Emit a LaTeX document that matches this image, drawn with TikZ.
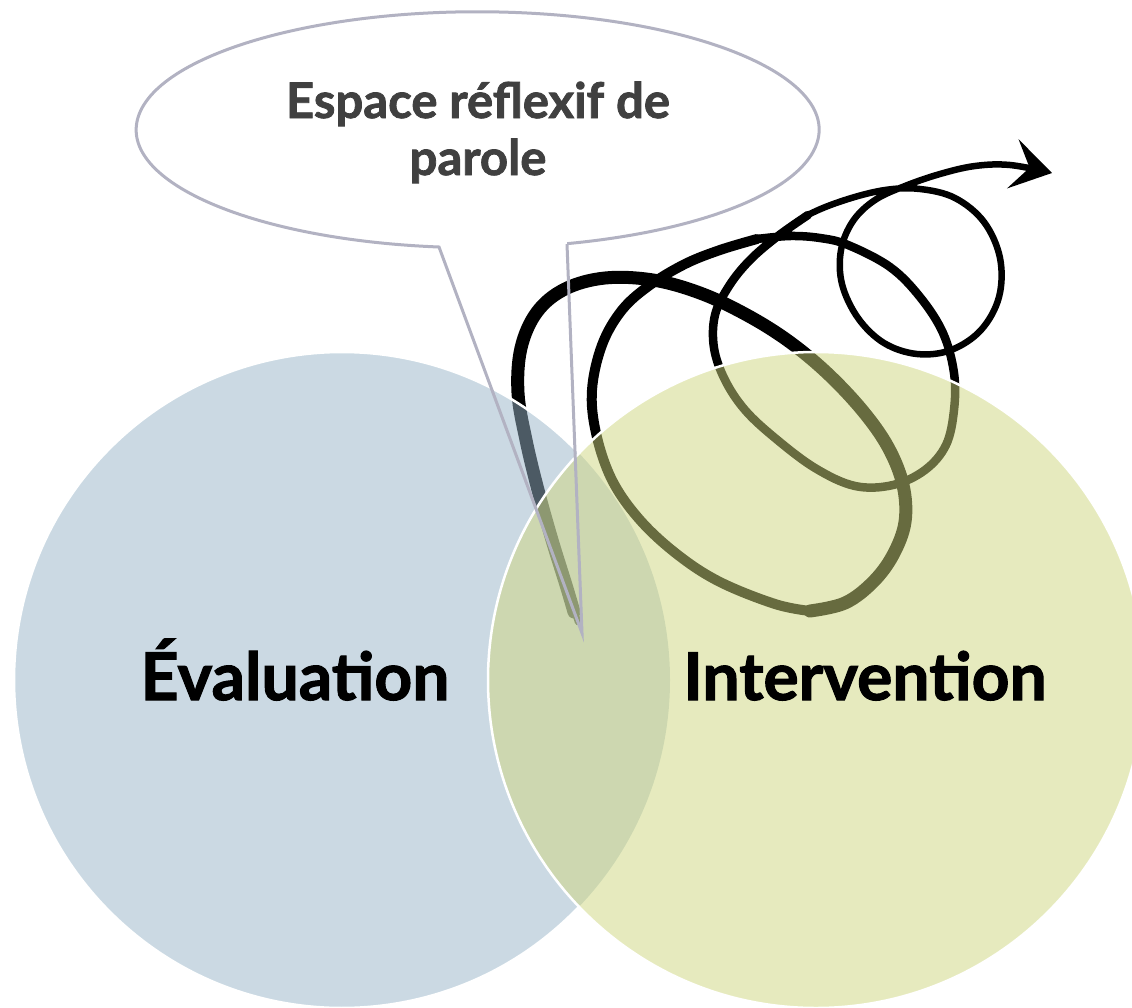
\documentclass[tikz,border=0pt]{standalone}
\usepackage{fontspec}
\setmainfont{Lato}[BoldFeatures={FakeBold=1.6}]
\usetikzlibrary{arrows.meta}

\definecolor{evalblue}{RGB}{152,180,200}
\definecolor{intgreen}{RGB}{206,214,126}
\definecolor{bubblegray}{RGB}{178,178,194}
\definecolor{textgray}{RGB}{64,64,64}

\tikzset{
  coil/.style={black, line cap=round, line join=round},
  vennlabel/.style={anchor=base, inner sep=0pt, font=\bfseries\fontsize{66}{66}\selectfont},
  bubbletext/.style={anchor=base, inner sep=0pt, text=textgray, font=\bfseries\fontsize{49}{57}\selectfont},
  bubble/.style={draw=bubblegray, line width=3pt, line join=miter},
}

\begin{document}
\begin{tikzpicture}[x=1pt,y=-1pt]
    \useasboundingbox (0,0) rectangle (1132,1007);

    % the coil, thin base first
    \draw[coil, line width=6.5pt, -{Stealth[length=40pt,width=50pt,inset=17pt]}] plot[smooth, tension=.6] coordinates {
      (578,622) (566,585) (552,540) (538,490) (526,440) (518,393) (521,348) (537,312) (565,289) (605,278) (653,280)
      (700,293) (745,314) (787,340) (826,372) (862,410) (888,447) (903,485) (905,522) (893,555) (873,582) (845,603)
      (810,611) (775,604) (720,582) (678,555) (640,520) (612,480) (596,433) (592,390) (602,345) (622,310) (650,285)
      (685,264) (720,250) (757,239) (790,236) (820,238) (848,245) (890,267) (920,297) (943,333) (954,373) (954,410)
      (946,445) (925,470) (893,485) (855,486) (815,468) (775,438) (745,410) (725,380) (714,348) (715,315) (729,286)
      (750,260) (778,236) (808,215) (845,200) (885,190) (920,189) (955,198) (984,222) (1000,258) (999,297) (981,330)
      (951,350) (917,354) (884,343) (858,318) (842,284) (841,250) (853,221) (875,200) (905,186) (940,174) (975,166)
      (1010,165) (1052,173)};
    % thicker parts of the coil
    \draw[coil, line width=13pt] plot[smooth, tension=.6] coordinates {
      (574,612) (566,585) (552,540) (538,490) (526,440) (518,393) (521,348) (537,312) (565,289) (605,278) (653,280)
      (700,293) (745,314) (787,340) (826,372) (862,410) (888,447) (903,485) (905,522) (893,555) (873,582) (845,603)
      (810,611)};
    \draw[coil, line width=10pt] plot[smooth, tension=.6] coordinates {
      (810,611) (775,604) (720,582) (678,555) (640,520) (612,480) (596,433) (592,390) (602,345) (622,310) (650,285)
      (685,264) (720,250) (757,239)};
    \draw[coil, line width=8.5pt] plot[smooth, tension=.6] coordinates {
      (757,239) (790,236) (820,238) (848,245) (890,267) (920,297) (943,333) (954,373) (954,410)
      (946,445) (925,470) (893,485) (855,486) (815,468) (775,438) (745,410) (725,380) (714,348) (715,315) (729,286)
      (750,260) (778,236) (808,215)};

    % the two sets
    \coordinate (evalc) at (342,680);
    \coordinate (intc) at (816,680);
    \fill[evalblue, fill opacity=.5] (evalc) circle[radius=328];
    \draw[white, line width=2.5pt] (evalc) ++(43.8:328) arc[start angle=43.8, end angle=316.2, radius=328];
    \draw[white, line width=2.5pt, fill=intgreen, fill opacity=.5] (intc) circle[radius=328];

    \node[vennlabel] (eval) at (295,700) {Évaluation};
    \node[vennlabel] (interv) at (865,700) {Intervention};

    % speech bubble
    \coordinate (tailL) at (439,247);
    \coordinate (tailR) at (567,244);
    \coordinate (tip) at (582,633);
    \fill[white] (477.5,130) ellipse[x radius=341.5, y radius=118];
    \draw[bubble] (tailR) -- (tip) -- (tailL) arc[start angle=96.5, end angle=434.8, x radius=341.5, y radius=118];

    \node[bubbletext] (espace) at (478,118) {Espace réflexif de};
    \node[bubbletext] (parole) at (478,175) {parole};

\end{tikzpicture}
\end{document}
